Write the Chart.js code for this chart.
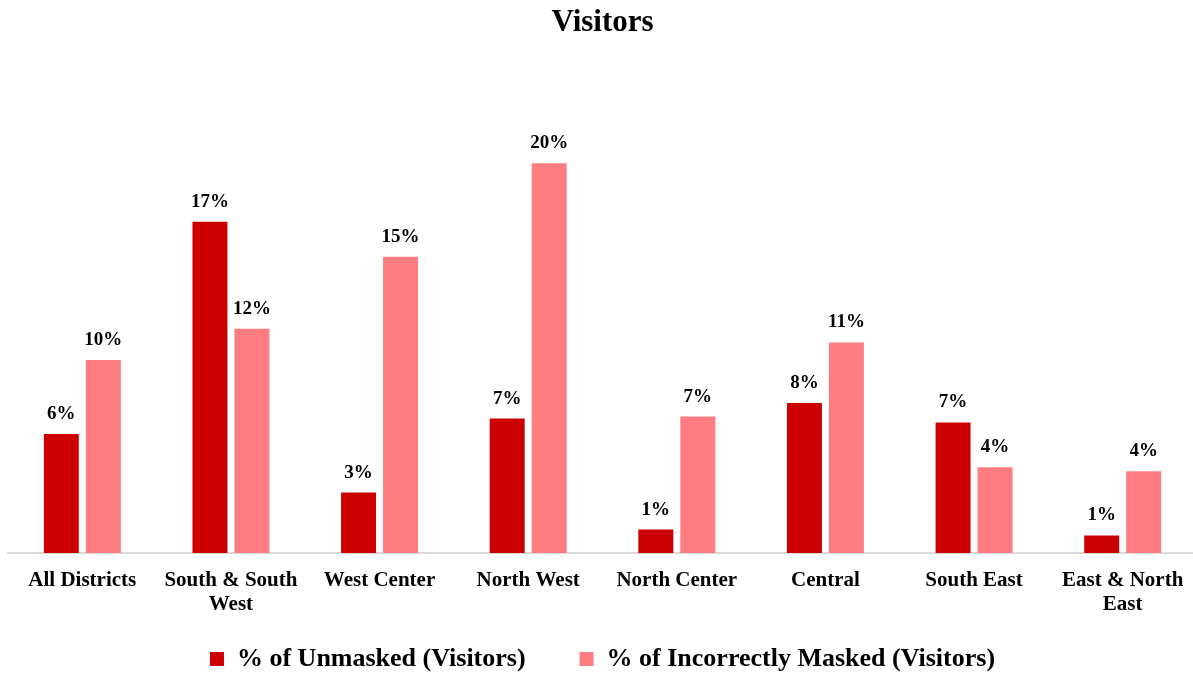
<!DOCTYPE html>
<html>
<head>
<meta charset="utf-8">
<script src="https://cdn.jsdelivr.net/npm/chart.js@4.4.1/dist/chart.umd.min.js"></script>
<style>
  html, body { margin: 0; padding: 0; background: #fff; overflow: hidden; }
  #wrap { width: 1206px; height: 673px; }
</style>
</head>
<body>
<div id="wrap"><canvas id="chart"></canvas></div>
<script>
var districts = [
    'All Districts', ['South & South', 'West'], 'West Center', 'North West',
    'North Center', 'Central', 'South East', ['East & North', 'East']
];
var unmasked = [6.1, 17.0, 3.1, 6.9, 1.2, 7.7, 6.7, 0.9];
var incorrectlyMasked = [9.9, 11.5, 15.2, 20.0, 7.0, 10.8, 4.4, 4.2];
var seriesNames = ['% of Unmasked (Visitors)', '% of Incorrectly Masked (Visitors)'];

var serif = '"Liberation Serif", "DejaVu Serif", serif';

// draws the % labels over each bar
var barLabels = {
    id: 'barLabels',
    afterDatasetsDraw: function(chart) {
        var ctx = chart.ctx;
        ctx.save();
        ctx.font = 'bold 19px ' + serif;
        ctx.fillStyle = '#000';
        ctx.textAlign = 'center';
        ctx.textBaseline = 'alphabetic';
        chart.data.datasets.forEach(function(ds, i) {
            chart.getDatasetMeta(i).data.forEach(function(bar, j) {
                ctx.fillText(Math.round(ds.data[j]) + '%', bar.x, bar.y - 15);
            });
        });
        ctx.restore();
    }
};

var ctx = document.getElementById('chart');
var myChart = new Chart(ctx, {
    type: 'bar',
    data: {
        labels: districts,
        datasets: [{
            label: seriesNames[0],
            data: unmasked,
            backgroundColor: '#CC0000'
        }, {
            label: seriesNames[1],
            data: incorrectlyMasked,
            backgroundColor: '#FF7C80'
        }]
    },
    options: {
        responsive: true,
        maintainAspectRatio: false,
        animation: false,
        layout: { padding: { left: 8, right: 9, top: 0, bottom: -9 } },
        datasets: {
            bar: { categoryPercentage: 0.565, barPercentage: 0.833 }
        },
        scales: {
            x: {
                grid: { display: false, drawTicks: false },
                border: { color: '#d9d9d9', width: 2 },
                afterFit: function(scale) { scale.height = 65; },
                ticks: {
                    color: '#000',
                    padding: 16,
                    maxRotation: 0,
                    autoSkip: false,
                    font: { family: serif, size: 21, weight: 'bold', lineHeight: 1.12 }
                }
            },
            y: {
                display: false,
                min: 0,
                max: 24
            }
        },
        plugins: {
            title: {
                display: true,
                text: 'Visitors',
                color: '#000',
                font: { family: serif, size: 31, weight: 'bold' },
                padding: { top: 4, bottom: 44 }
            },
            legend: {
                position: 'bottom',
                labels: {
                    color: '#000',
                    boxWidth: 14,
                    boxHeight: 14,
                    padding: 28,
                    font: { family: serif, size: 26, weight: 'bold' },
                    generateLabels: function(chart) {
                        var items = Chart.defaults.plugins.legend.labels.generateLabels(chart);
                        // wider gap between the two entries
                        items[0].text += '\u2003';
                        return items;
                    }
                }
            },
            tooltip: { enabled: false }
        }
    },
    plugins: [barLabels]
});
</script>
</body>
</html>
